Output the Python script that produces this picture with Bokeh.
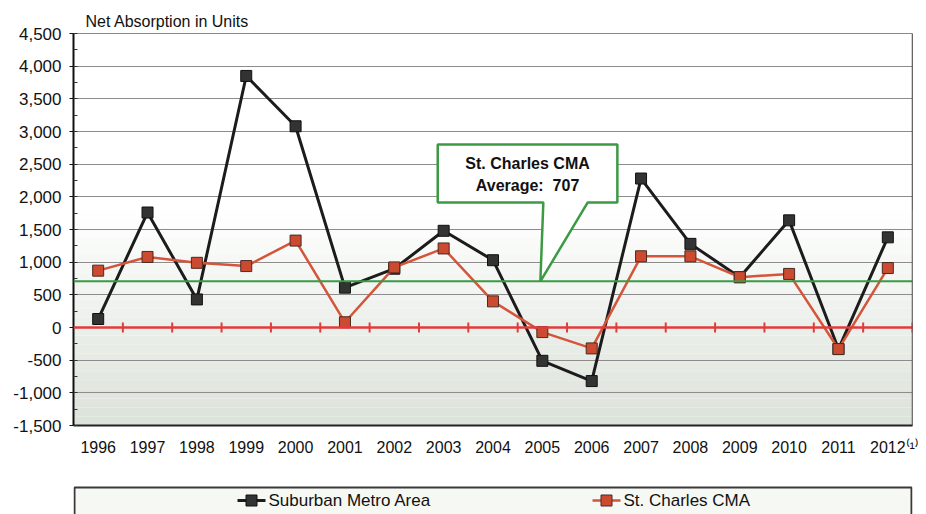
from bokeh.plotting import figure
from bokeh.models import (Range1d, FixedTicker, SingleIntervalTicker, NumeralTickFormatter,
                          Span, Label, BoxAnnotation)
from bokeh.core.properties import value
from bokeh.layouts import column
from bokeh.embed import file_html
from bokeh.resources import INLINE

# ---------------- data ----------------
years = ["1996", "1997", "1998", "1999", "2000", "2001", "2002", "2003", "2004",
         "2005", "2006", "2007", "2008", "2009", "2010", "2011", "2012"]
suburban_metro = [130, 1760, 430, 3850, 3080, 610, 900, 1480, 1030,
                  -510, -820, 2280, 1280, 770, 1640, -330, 1380]
st_charles = [870, 1080, 990, 940, 1330, 80, 920, 1210, 400,
              -70, -320, 1090, 1090, 770, 820, -330, 910]
st_charles_avg = 707
y_title = "Net Absorption in Units"
footnote = "\u207d\u00b9\u207e"
series_names = ["Suburban Metro Area", "St. Charles CMA"]

FONT = "Liberation Sans"
BLACK = "#1c1c1c"
RED = "#d4553a"
GREEN = "#3b9a43"

xs = list(range(1, len(years) + 1))
labels = list(years)
labels[-1] = "\u00a0\u00a0\u00a0" + years[-1] + footnote

p = figure(width=926, height=470, output_backend="svg", toolbar_location=None,
           x_range=Range1d(0.5, len(years) + 0.5), y_range=Range1d(-1500, 4500),
           min_border_left=73, min_border_right=14, min_border_top=33, min_border_bottom=45)
p.background_fill_color = "white"
p.border_fill_color = "white"
p.outline_line_color = "#888888"
p.outline_line_width = 1

p.title.text = y_title
p.title.align = "left"
p.title.offset = 12
p.title.standoff = 8
p.title.text_font = FONT
p.title.text_font_style = "normal"
p.title.text_font_size = "16px"
p.title.text_color = "#111111"

# subtle background shading (scan tint) towards the bottom
nb = 24
top_v, bot_v = 1800, -1500
c0 = (255, 255, 255)
c1 = (219, 226, 217)
for i in range(nb):
    t = (i + 0.5) / nb
    col = tuple(int(round(c0[k] + (c1[k] - c0[k]) * t)) for k in range(3))
    b = BoxAnnotation(top=top_v - (top_v - bot_v) * i / nb,
                      bottom=top_v - (top_v - bot_v) * (i + 1) / nb - (0 if i == nb - 1 else 1),
                      fill_color="#%02x%02x%02x" % col, fill_alpha=1.0, line_color=None,
                      level="image")
    p.add_layout(b)

# right border
p.add_layout(Span(location=len(years) + 0.5, dimension="height", line_color="#444444",
                  line_width=1.5, level="overlay"))

# axes
p.xaxis.ticker = FixedTicker(ticks=xs)
p.xaxis.major_label_overrides = {x: y for x, y in zip(xs, labels)}
p.xaxis.major_tick_line_color = None
p.xaxis.minor_tick_line_color = None
p.xaxis.axis_line_color = "#222222"
p.xaxis.axis_line_width = 2
p.xaxis.major_label_standoff = 7
p.xaxis.major_label_text_font = FONT
p.xaxis.major_label_text_font_size = "16px"
p.xaxis.major_label_text_color = "#111111"

p.yaxis.ticker = SingleIntervalTicker(interval=500, num_minor_ticks=2)
p.yaxis.formatter = NumeralTickFormatter(format="0,0")
p.yaxis.axis_line_color = "#111111"
p.yaxis.axis_line_width = 2
p.yaxis.major_tick_out = 4
p.yaxis.major_tick_in = 0
p.yaxis.minor_tick_in = 4
p.yaxis.minor_tick_out = 0
p.yaxis.major_tick_line_color = "#111111"
p.yaxis.minor_tick_line_color = "#333333"
p.yaxis.major_label_standoff = 8
p.yaxis.major_label_text_font = FONT
p.yaxis.major_label_text_font_size = "17px"
p.yaxis.major_label_text_color = "#111111"

p.xgrid.grid_line_color = None
p.ygrid.grid_line_color = "#8c8c8c"
p.ygrid.grid_line_width = 1

# zero line with category ticks
p.add_layout(Span(location=0, dimension="width", line_color="#e23b3b", line_width=2.5))
bounds = [i + 0.5 for i in xs]
p.segment(x0=bounds, y0=[-75] * len(bounds), x1=bounds, y1=[75] * len(bounds),
          line_color="#e23b3b", line_width=2)

# average line
p.add_layout(Span(location=st_charles_avg, dimension="width", line_color=GREEN, line_width=2))

# series
p.line(xs, suburban_metro, line_color=BLACK, line_width=3)
p.scatter(xs, suburban_metro, marker="square", size=11, fill_color="#333333",
          line_color="#111111", line_width=1)
p.line(xs, st_charles, line_color=RED, line_width=2.5)
p.scatter(xs, st_charles, marker="square", size=11, fill_color="#cc4a30",
          line_color="#4a2a22", line_width=1)

# callout
cx = [7.88, 11.52, 11.52, 10.92, 9.96, 10.02, 7.88]
cy = [2800, 2800, 1915, 1915, st_charles_avg, 1915, 1915]
p.patch(cx, cy, fill_color="white", line_color=GREEN, line_width=2.5)
p.add_layout(Label(x=9.70, y=2505, text="St. Charles CMA", text_align="center",
                   text_baseline="middle", text_font=FONT, text_font_style="bold",
                   text_font_size="16px", text_color="#111111"))
p.add_layout(Label(x=9.70, y=2170, text="Average:\u00a0 %d" % st_charles_avg,
                   text_align="center", text_baseline="middle", text_font=FONT,
                   text_font_style="bold", text_font_size="16px", text_color="#111111"))

# ---------------- legend strip (frame aligned with main plot: x in page px 73..912) ----------------
LH = 44
lg = figure(width=926, height=LH, output_backend="svg", toolbar_location=None,
            x_range=Range1d(73, 912), y_range=Range1d(0, LH),
            x_axis_type=None, y_axis_type=None, min_border=0,
            min_border_left=73, min_border_right=14)
lg.outline_line_color = None
lg.grid.visible = False
lg.background_fill_color = "white"
lg.border_fill_color = "white"
lg.quad(left=[74], right=[911], top=[LH - 17], bottom=[-10], fill_color="#f6f8f3",
        line_color="#3a3a3a", line_width=2)
ly = 14
lg.line([237, 265], [ly, ly], line_color=BLACK, line_width=3)
lg.scatter([251], [ly], marker="square", size=11, fill_color="#333333", line_color="#111111")
lg.text([268], [ly], text=[series_names[0]], text_baseline="middle", text_align="left",
        text_font=value(FONT), text_font_size=value("17px"), text_color="#111111")
lg.line([592, 620], [ly, ly], line_color=RED, line_width=2.5)
lg.scatter([606], [ly], marker="square", size=11, fill_color="#cc4a30", line_color="#4a2a22")
lg.text([623], [ly], text=[series_names[1]], text_baseline="middle", text_align="left",
        text_font=value(FONT), text_font_size=value("17px"), text_color="#111111")

layout = column(p, lg, spacing=0)
open("out.html", "w").write(file_html(layout, INLINE))
